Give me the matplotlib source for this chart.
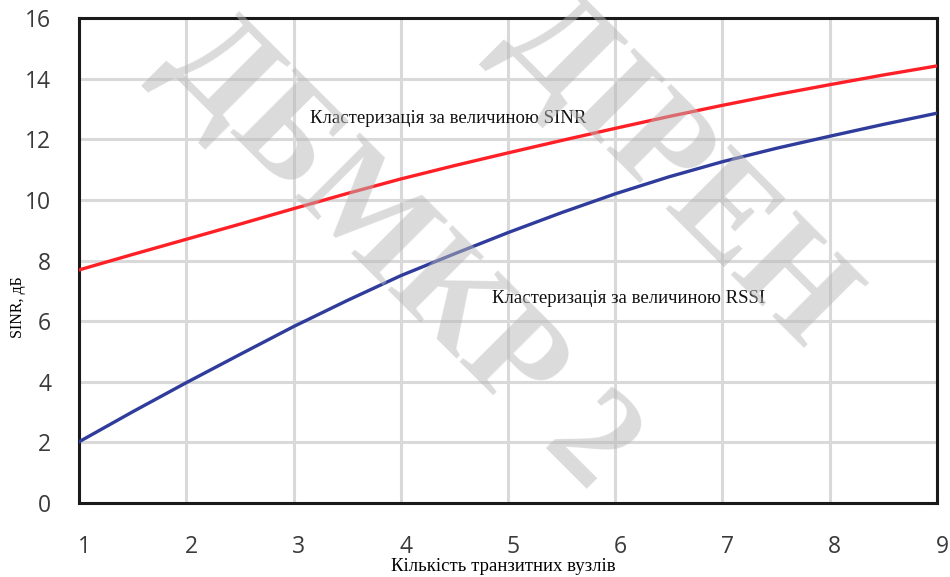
import matplotlib
matplotlib.use("Agg")
import matplotlib.pyplot as plt
import matplotlib.transforms as mtransforms

# values (every half node)
nodes = [1, 2, 3, 4, 5, 6, 7, 8, 9]
x_read = [1, 1.5, 2, 2.5, 3, 3.5, 4, 4.5, 5, 5.5, 6, 6.5, 7, 7.5, 8, 8.5, 9]
sinr_clust = [7.69, 8.2, 8.7, 9.2, 9.71, 10.21, 10.69, 11.13, 11.55, 11.96,
              12.36, 12.75, 13.12, 13.47, 13.8, 14.12, 14.42]
rssi_clust = [2.02, 3.01, 3.97, 4.9, 5.82, 6.68, 7.5, 8.22, 8.92, 9.58,
              10.2, 10.76, 11.26, 11.7, 12.1, 12.49, 12.86]
y_ticks = [0, 2, 4, 6, 8, 10, 12, 14, 16]

label_sinr = "Кластеризація за величиною SINR"
label_rssi = "Кластеризація за величиною RSSI"
x_title = "Кількість транзитних вузлів"
y_title = "SINR, дБ"

fig = plt.figure(figsize=(9.5, 5.77), dpi=100)
ax = fig.add_axes([0.0832, 0.1282, 0.9031, 0.8406])

ax.plot(x_read, sinr_clust, color="#ff1f26", lw=2.4, zorder=3, solid_joinstyle="round")
ax.plot(x_read, rssi_clust, color="#2f3c9c", lw=2.4, zorder=3, solid_joinstyle="round")

ax.set_xlim(1, 9)
ax.set_ylim(0, 16)
ax.set_xticks(nodes)
ax.set_yticks(y_ticks)
ax.grid(True, color="#d9d9d9", lw=2.2)
ax.set_axisbelow(True)
ax.tick_params(length=0, labelsize=16.5, labelcolor="#3a3a3a")
ax.tick_params(axis="x", pad=23)
ax.tick_params(axis="y", pad=20)
shift = mtransforms.ScaledTranslation(5 / 100, 0, fig.dpi_scale_trans)
for lab in ax.get_xticklabels() + ax.get_yticklabels():
    lab.set_fontfamily("Open Sans")
for lab in ax.get_xticklabels():
    lab.set_transform(lab.get_transform() + shift)
for s in ax.spines.values():
    s.set_color("#1a1a1a")
    s.set_linewidth(2.2)

# annotations and axis titles in serif
serif = "Liberation Serif"
ax.text(3.15, 12.55, label_sinr, fontsize=13.5, family=serif, color="#111111")
ax.text(4.85, 6.6, label_rssi, fontsize=13.5, family=serif, color="#111111")
fig.text(0.53, 0.018, x_title, fontsize=13.5, family=serif, ha="center", va="center")
fig.text(0.019, 0.468, y_title, fontsize=11.5, family=serif, rotation=90,
         ha="center", va="center")

# watermark
wm = dict(fontsize=100, family=serif, fontweight="bold", color="#b8b8b8",
          alpha=0.5, ha="center", va="center", rotation=-45, zorder=10)
fig.text(0.42, 0.56, "ДБМКР 2", **wm)
fig.text(0.71, 0.70, "ДІРЕН", **wm)

fig.savefig("out.png", dpi=100)
